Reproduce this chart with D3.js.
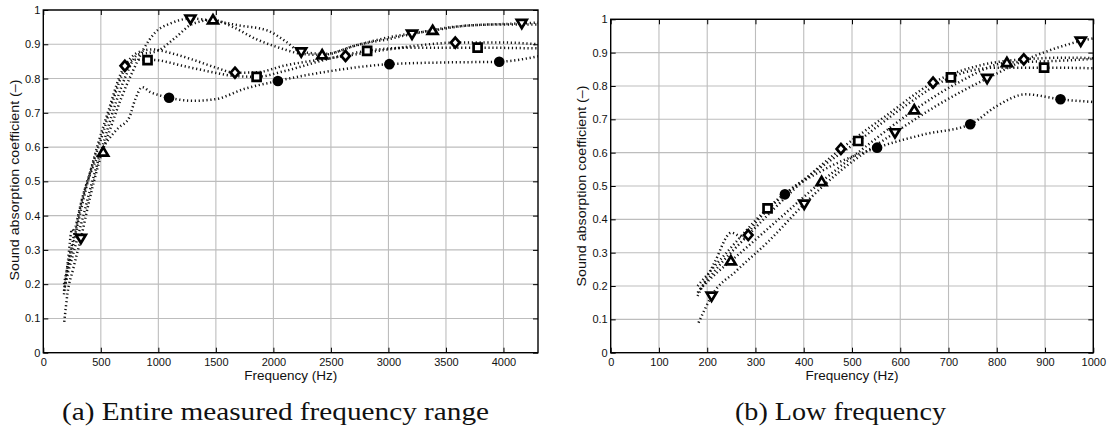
<!DOCTYPE html>
<html lang="en">
<head>
<meta charset="utf-8">
<title>Sound absorption coefficient</title>
<script src="https://d3js.org/d3.v7.min.js"></script>
<style>
  body { margin: 0; background: #fff; }
</style>
</head>
<body>
<script>
// measured curves, [frequency Hz, absorption coefficient]
const circleCurve = [[180,0.17],[215,0.27],[250,0.36],[275,0.345],[300,0.39],[361,0.475],[450,0.555],[552,0.615],
  [650,0.655],[745,0.685],[800,0.74],[860,0.775],[932,0.76],[1000,0.752],[1093,0.744],[1300,0.735],[1500,0.74],
  [1750,0.77],[2039,0.793],[2500,0.822],[3008,0.842],[3500,0.847],[3963,0.849],[4300,0.865]]
const squareCurve = [[180,0.2],[240,0.3],[325,0.433],[420,0.54],[513,0.635],[610,0.74],[705,0.826],[800,0.855],
  [898,0.855],[1000,0.853],[1200,0.838],[1450,0.82],[1650,0.808],[1854,0.805],[2100,0.822],[2450,0.855],
  [2815,0.881],[3200,0.89],[3775,0.89],[4300,0.888]]
const diamondCurve = [[180,0.18],[230,0.27],[285,0.353],[380,0.49],[477,0.611],[570,0.71],[668,0.81],[760,0.86],
  [856,0.88],[950,0.885],[1100,0.875],[1300,0.855],[1500,0.832],[1666,0.817],[1850,0.818],[2100,0.838],
  [2400,0.855],[2627,0.866],[3000,0.885],[3300,0.898],[3581,0.905],[4000,0.905],[4300,0.9]]
const triUpCurve = [[185,0.19],[220,0.24],[249,0.275],[340,0.39],[437,0.513],[530,0.62],[629,0.728],[720,0.81],
  [821,0.87],[920,0.875],[1000,0.882],[1150,0.92],[1300,0.96],[1475,0.971],[1650,0.95],[1850,0.915],[2050,0.89],
  [2250,0.872],[2424,0.869],[2700,0.895],[3000,0.92],[3384,0.94],[3700,0.955],[4000,0.958],[4300,0.958]]
const triDownCurve = [[182,0.09],[195,0.13],[209,0.17],[260,0.245],[327,0.334],[401,0.446],[480,0.55],[589,0.66],
  [680,0.745],[780,0.823],[870,0.885],[974,0.935],[1100,0.96],[1280,0.975],[1450,0.97],[1700,0.955],[1950,0.94],
  [2100,0.91],[2242,0.878],[2450,0.872],[2750,0.9],[3000,0.915],[3205,0.93],[3600,0.952],[4159,0.961],[4300,0.963]]

// marker positions in panel (a)
const circleMarksA = [[1093,0.744],[2039,0.793],[3008,0.842],[3963,0.849]]
const squareMarksA = [[906,0.854],[1854,0.805],[2815,0.881],[3775,0.89]]
const diamondMarksA = [[709,0.837],[1666,0.817],[2627,0.866],[3581,0.905]]
const triUpMarksA = [[521,0.585],[1475,0.971],[2424,0.869],[3384,0.94]]
const triDownMarksA = [[327,0.334],[1279,0.974],[2242,0.878],[3205,0.93],[4159,0.961]]

// marker positions in panel (b)
const circleMarksB = [[361,0.475],[552,0.615],[745,0.685],[932,0.76]]
const squareMarksB = [[325,0.433],[513,0.635],[705,0.826],[898,0.855]]
const diamondMarksB = [[285,0.353],[477,0.611],[668,0.81],[856,0.88]]
const triUpMarksB = [[249,0.275],[437,0.513],[629,0.728],[821,0.87]]
const triDownMarksB = [[209,0.17],[401,0.446],[589,0.66],[780,0.823],[974,0.935]]

const yTicks = [0,0.1,0.2,0.3,0.4,0.5,0.6,0.7,0.8,0.9,1]
const xTicksA = [0,500,1000,1500,2000,2500,3000,3500,4000]
const xTicksB = [0,100,200,300,400,500,600,700,800,900,1000]
const xLabel = "Frequency (Hz)"
const yLabel = "Sound absorption coefficient (–)"
const captions = ["(a) Entire measured frequency range", "(b) Low frequency"]

const SANS = '"Liberation Sans", Arial, Helvetica, sans-serif'
const SERIF = '"Liberation Serif", "Times New Roman", Times, serif'

const shapes = {
  circle: "M5.3,0A5.3,5.3,0,1,1,-5.3,0A5.3,5.3,0,1,1,5.3,0Z",
  square: "M-4,-4L4,-4L4,4L-4,4Z",
  diamond: "M0,-5L4.3,0L0,5L-4.3,0Z",
  triUp: "M0,-4.8L4.9,3.4L-4.9,3.4Z",
  triDown: "M0,4.8L4.9,-3.4L-4.9,-3.4Z"
}

const series = [
  { shape: "circle", curve: circleCurve, a: circleMarksA, b: circleMarksB },
  { shape: "square", curve: squareCurve, a: squareMarksA, b: squareMarksB },
  { shape: "diamond", curve: diamondCurve, a: diamondMarksA, b: diamondMarksB },
  { shape: "triUp", curve: triUpCurve, a: triUpMarksA, b: triUpMarksB },
  { shape: "triDown", curve: triDownCurve, a: triDownMarksA, b: triDownMarksB }
]

const W = 1107, H = 431
const svg = d3.select("body").append("svg").attr("width", W).attr("height", H)

const panels = [
  { id: "a", left: 43.3, right: 538, top: 10, bottom: 352.7, xMax: 4300, xTicks: xTicksA,
    yLabelX: 19, yLabelY: 180, capX: 62, capW: 427 },
  { id: "b", left: 610.7, right: 1093.3, top: 19.3, bottom: 352.7, xMax: 1000, xTicks: xTicksB,
    yLabelX: 586, yLabelY: 186, capX: 735, capW: 211 }
]

panels.forEach((p) => {
  const x = d3.scaleLinear().domain([0, p.xMax]).range([p.left, p.right])
  const y = d3.scaleLinear().domain([0, 1]).range([p.bottom, p.top])
  const g = svg.append("g")

  g.append("clipPath").attr("id", "clip-" + p.id)
    .append("rect").attr("x", p.left).attr("y", p.top)
    .attr("width", p.right - p.left).attr("height", p.bottom - p.top)

  // grid
  g.selectAll("line.gx").data(p.xTicks.slice(1)).enter().append("line")
    .attr("x1", (d) => x(d)).attr("x2", (d) => x(d)).attr("y1", p.top).attr("y2", p.bottom)
    .attr("stroke", "#bdbdbd").attr("stroke-width", 1.1)
  g.selectAll("line.gy").data(yTicks.slice(1)).enter().append("line")
    .attr("y1", (d) => y(d)).attr("y2", (d) => y(d)).attr("x1", p.left).attr("x2", p.right)
    .attr("stroke", "#bdbdbd").attr("stroke-width", 1.1)

  // curves
  const line = d3.line().x((d) => x(d[0])).y((d) => y(d[1])).curve(d3.curveMonotoneX)
  const curves = g.append("g").attr("clip-path", `url(#clip-${p.id})`)
  series.forEach((s) => {
    curves.append("path").attr("d", line(s.curve))
      .attr("fill", "none").attr("stroke", "#111").attr("stroke-width", 2.5)
      .attr("stroke-dasharray", "1.2,2.7")
  })

  // markers
  series.forEach((s) => {
    g.selectAll(null).data(s[p.id]).enter().append("path")
      .attr("d", shapes[s.shape])
      .attr("transform", (d) => `translate(${x(d[0])},${y(d[1])})`)
      .attr("fill", s.shape === "circle" ? "#000" : "#fff")
      .attr("stroke", "#000")
      .attr("stroke-width", s.shape === "circle" ? 0 : 2.7)
  })

  // axes with inward ticks
  const fmtY = (d) => (d === 0 || d === 1) ? String(d) : d3.format(".1f")(d)
  const ax = g.append("g").attr("transform", `translate(0,${p.bottom})`)
    .call(d3.axisBottom(x).tickValues(p.xTicks).tickSize(-5).tickPadding(6).tickFormat(d3.format("d")))
  const ay = g.append("g").attr("transform", `translate(${p.left},0)`)
    .call(d3.axisLeft(y).tickValues(yTicks).tickSize(-5).tickPadding(3).tickFormat(fmtY))
  const at = g.append("g").attr("transform", `translate(0,${p.top})`)
    .call(d3.axisTop(x).tickValues(p.xTicks).tickSize(-5).tickFormat(""))
  const ar = g.append("g").attr("transform", `translate(${p.right},0)`)
    .call(d3.axisRight(y).tickValues(yTicks).tickSize(-5).tickFormat(""))
  ;[ax, ay, at, ar].forEach((a) => {
    a.attr("font-family", SANS)
    a.select(".domain").remove()
    a.selectAll(".tick line").attr("stroke", "#000").attr("stroke-width", 1)
    a.selectAll("text").style("font-family", SANS).attr("font-size", 11).attr("fill", "#111")
  })

  g.append("rect").attr("x", p.left).attr("y", p.top)
    .attr("width", p.right - p.left).attr("height", p.bottom - p.top)
    .attr("fill", "none").attr("stroke", "#000").attr("stroke-width", 1.4)

  // labels
  g.append("text").attr("x", (p.left + p.right) / 2 - 46.5).attr("y", 379.5)
    .style("font-family", SANS).attr("fill", "#111")
    .attr("font-size", 12.5).attr("textLength", 93).attr("lengthAdjust", "spacingAndGlyphs")
    .text(xLabel)
  g.append("text")
    .attr("transform", `translate(${p.yLabelX},${p.yLabelY + 100.5}) rotate(-90)`)
    .style("font-family", SANS).attr("fill", "#111")
    .attr("font-size", 12.5).attr("textLength", 201).attr("lengthAdjust", "spacingAndGlyphs")
    .text(yLabel)

  g.append("text").attr("x", p.capX).attr("y", 419.5)
    .style("font-family", SERIF).attr("fill", "#111")
    .attr("font-size", 25)
    .attr("textLength", p.capW).attr("lengthAdjust", "spacingAndGlyphs")
    .text(captions[p.id === "a" ? 0 : 1])
})
</script>
</body>
</html>
